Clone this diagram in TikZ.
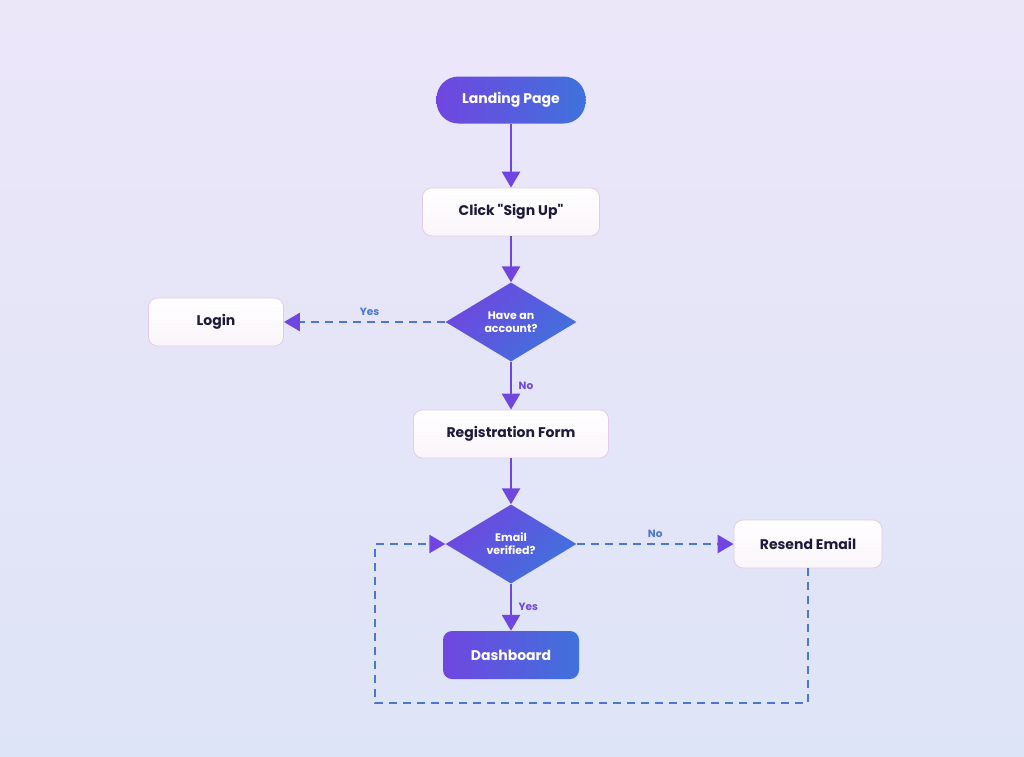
\documentclass[tikz,border=0pt]{standalone}
\usepackage{fontspec}
\setmainfont{Poppins}
\usetikzlibrary{shapes.geometric,arrows.meta}
\definecolor{flowpurple}{HTML}{7046E0}
\definecolor{flowblue}{HTML}{3F72DC}
\definecolor{loopblue}{HTML}{4A78CF}
\definecolor{inktext}{HTML}{1E1A3C}
\tikzset{
  startnode/.style = {shape=rectangle, rounded corners=22pt, minimum width=149pt,
                      minimum height=47pt, left color=flowpurple, right color=flowblue,
                      text=white, font=\bfseries\fontsize{14}{16}\selectfont},
  endnode/.style   = {startnode, rounded corners=9pt, minimum width=136pt, minimum height=48pt},
  stepnode/.style  = {shape=rectangle, rounded corners=9pt, draw=violet!20, line width=0.8pt,
                      top color=white, bottom color=violet!4, minimum height=48pt,
                      text=inktext, font=\bfseries\fontsize{14}{16}\selectfont},
  choice/.style    = {shape=diamond, aspect=1.66, inner sep=0pt, minimum width=131pt,
                      minimum height=79pt, left color=flowpurple, right color=flowblue,
                      shading angle=45, align=center, text=white,
                      font=\bfseries\fontsize{11}{13}\selectfont},
  flow/.style      = {draw=flowpurple, line width=2.6pt, -{Triangle[width=18pt,length=16pt]}},
  back/.style      = {draw=loopblue, line width=2.6pt, dash pattern=on 8pt off 6pt,
                      -{Triangle[width=18pt,length=16pt,color=flowpurple]}},
  tag/.style       = {font=\bfseries\fontsize{10.5}{12}\selectfont}
}
\begin{document}
\begin{tikzpicture}[x=1pt,y=-1pt]
  \shade[top color={rgb,255:red,236;green,230;blue,249}, bottom color={rgb,255:red,222;green,228;blue,247}]
    (0,0) rectangle (1024,756);
  \useasboundingbox (0,0) rectangle (1024,756);

  \node [startnode] (landing) at (511,100) {Landing Page};
  \node [stepnode, minimum width=177pt] (signup) at (511,212) {Click \textquotedbl Sign Up\textquotedbl};
  \node [choice] (account) at (511,322) {Have an\\account?};
  \node [stepnode, minimum width=135pt] (login) at (216,322) {Login};
  \node [stepnode, minimum width=195pt] (regform) at (511,434) {Registration Form};
  \node [choice] (verified) at (511,544) {Email\\verified?};
  \node [stepnode, minimum width=148pt] (resend) at (808,544) {Resend Email};
  \node [endnode] (dash) at (511,655) {Dashboard};
  \coordinate (loopA) at (808,703);
  \coordinate (loopB) at (375,703);
  \coordinate (loopC) at (375,544);

  \draw [flow] (landing) -- (signup);
  \draw [flow] (signup) -- (account);
  \draw [back] (account) -- node [tag, text=loopblue, above=2pt, pos=0.47] {Yes} (login);
  \draw [flow] (account) -- node [tag, text=flowpurple, right=3pt] {No} (regform);
  \draw [flow] (regform) -- (verified);
  \draw [back] (verified) -- node [tag, text=loopblue, above=2pt] {No} (resend);
  \draw [flow] (verified) -- node [tag, text=flowpurple, right=3pt] {Yes} (dash);
  \draw [back] (resend) -- (loopA) -- (loopB) -- (loopC) -- (verified);
\end{tikzpicture}
\end{document}
